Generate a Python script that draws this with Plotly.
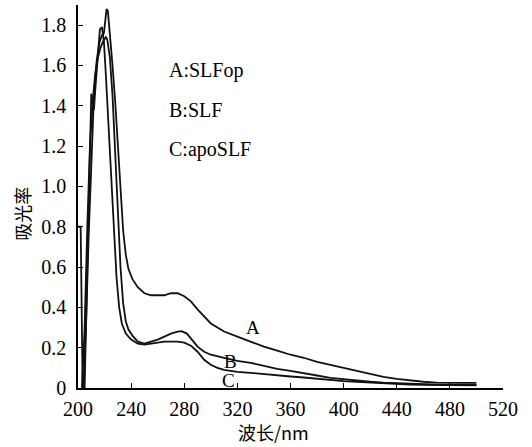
import plotly.graph_objects as go

# wavelength (nm) / absorbance
wl_a = [204, 206, 208, 210, 212, 214, 216, 218, 219.5, 220.5, 221.5, 222.5, 224, 226, 228, 230, 232, 234,
        236, 238, 241, 245, 250, 255, 260, 265, 270, 275, 280, 285, 290, 295, 300, 305, 310, 320, 330,
        340, 350, 360, 370, 380, 390, 400, 410, 420, 430, 440, 450, 460, 470, 480, 490, 500]
abs_a = [0, 0.3, 0.75, 1.15, 1.45, 1.62, 1.71, 1.75, 1.76, 1.82, 1.88, 1.87, 1.76, 1.6, 1.42, 1.2, 0.95, 0.78,
         0.66, 0.59, 0.54, 0.5, 0.47, 0.46, 0.46, 0.46, 0.47, 0.47, 0.455, 0.43, 0.39, 0.355, 0.32, 0.3,
         0.28, 0.255, 0.23, 0.205, 0.185, 0.165, 0.15, 0.13, 0.115, 0.1, 0.085, 0.068, 0.055, 0.045,
         0.037, 0.031, 0.027, 0.025, 0.025, 0.025]

wl_b = [203, 205, 207, 209, 211, 213, 215, 217, 219, 221, 222, 224, 226, 228, 230, 232, 234, 236, 238,
        241, 245, 250, 255, 260, 265, 270, 275, 278, 282, 286, 290, 295, 300, 310, 320, 330, 340, 350,
        360, 370, 380, 390, 400, 410, 420, 430, 440, 450, 460, 470, 480, 490, 500]
abs_b = [0, 0.3, 0.8, 1.2, 1.42, 1.56, 1.64, 1.69, 1.72, 1.74, 1.73, 1.64, 1.45, 1.15, 0.85, 0.6, 0.42,
         0.33, 0.29, 0.26, 0.23, 0.22, 0.23, 0.24, 0.255, 0.27, 0.28, 0.282, 0.27, 0.24, 0.205, 0.18,
         0.165, 0.15, 0.135, 0.125, 0.11, 0.095, 0.085, 0.072, 0.062, 0.05, 0.043, 0.037, 0.031, 0.027,
         0.024, 0.021, 0.019, 0.017, 0.016, 0.015, 0.015]

wl_c = [200, 202, 203.5, 205, 207, 209, 210, 211, 212, 213, 215, 216.5, 218, 219.5, 221, 223, 225, 227,
        229, 231, 233, 236, 240, 245, 250, 255, 260, 265, 270, 275, 280, 285, 290, 295, 300, 305, 310,
        320, 330, 340, 350, 360, 370, 380, 390, 400, 410, 420, 430, 440, 450, 460, 470, 480, 490, 500]
abs_c = [0.8, 0.8, 0, 0, 0.6, 1.2, 1.46, 1.42, 1.38, 1.48, 1.68, 1.78, 1.79, 1.72, 1.55, 1.3, 1.05, 0.8,
         0.55, 0.4, 0.32, 0.27, 0.24, 0.22, 0.215, 0.22, 0.225, 0.23, 0.23, 0.23, 0.225, 0.21, 0.18, 0.14,
         0.115, 0.1, 0.09, 0.08, 0.075, 0.068, 0.063, 0.057, 0.052, 0.045, 0.04, 0.034, 0.03, 0.026,
         0.022, 0.019, 0.017, 0.016, 0.015, 0.014, 0.013, 0.013]

x_ticks = [200, 240, 280, 320, 360, 400, 440, 480, 520]
y_ticks = [0, 0.2, 0.4, 0.6, 0.8, 1.0, 1.2, 1.4, 1.6, 1.8]
y_labels = ["0", "0.2", "0.4", "0.6", "0.8", "1.0", "1.2", "1.4", "1.6", "1.8"]
legend_lines = ["A:SLFop", "B:SLF", "C:apoSLF"]

serif = "'Liberation Serif', 'Times New Roman', 'DejaVu Serif', serif"
cjk = "'Noto Sans CJK SC', sans-serif"

fig = go.Figure()
for wl, ab in [(wl_a, abs_a), (wl_b, abs_b), (wl_c, abs_c)]:
    fig.add_trace(go.Scatter(x=wl, y=ab, mode="lines", line=dict(color="#111111", width=1.8),
                             showlegend=False))

# legend text block
for i, txt in enumerate(legend_lines):
    fig.add_annotation(x=267, y=1.575 - i * 0.195, text=txt, showarrow=False, xanchor="left",
                       font=dict(family=serif, size=20, color="black"))

# curve labels
for txt, x, y in [("A", 332, 0.30), ("B", 315, 0.13), ("C", 313, 0.035)]:
    fig.add_annotation(x=x, y=y, text=txt, showarrow=False,
                       font=dict(family=serif, size=19, color="black"))

# axis titles
fig.add_annotation(x=0.46, y=-0.115, xref="paper", yref="paper", text="波长/nm", showarrow=False,
                   yanchor="middle", font=dict(family=cjk, size=18, color="black"))
fig.add_annotation(x=-0.132, y=0.455, xref="paper", yref="paper", text="吸光率", showarrow=False,
                   textangle=-90, xanchor="center", yanchor="middle",
                   font=dict(family=cjk, size=18, color="black"))

fig.update_layout(
    width=532,
    height=447,
    margin=dict(l=78, r=29, t=5, b=59),
    plot_bgcolor="white",
    paper_bgcolor="white",
    font=dict(family=serif, size=20, color="black"),
)
fig.update_xaxes(
    range=[200, 520], tickvals=x_ticks, ticks="inside", ticklen=5, tickcolor="black",
    showline=True, linecolor="black", linewidth=1.5, showgrid=False, zeroline=False,
    automargin=False, ticklabelstandoff=2,
)
fig.update_yaxes(
    range=[0, 1.9], tickvals=y_ticks, ticktext=y_labels, ticks="inside", ticklen=5, tickcolor="black",
    showline=True, linecolor="black", linewidth=1.5, showgrid=False, zeroline=False,
    automargin=False, ticklabelstandoff=6,
)

fig.write_html("out.html", config={"displayModeBar": False},
               post_script="document.body.style.margin='0';")
